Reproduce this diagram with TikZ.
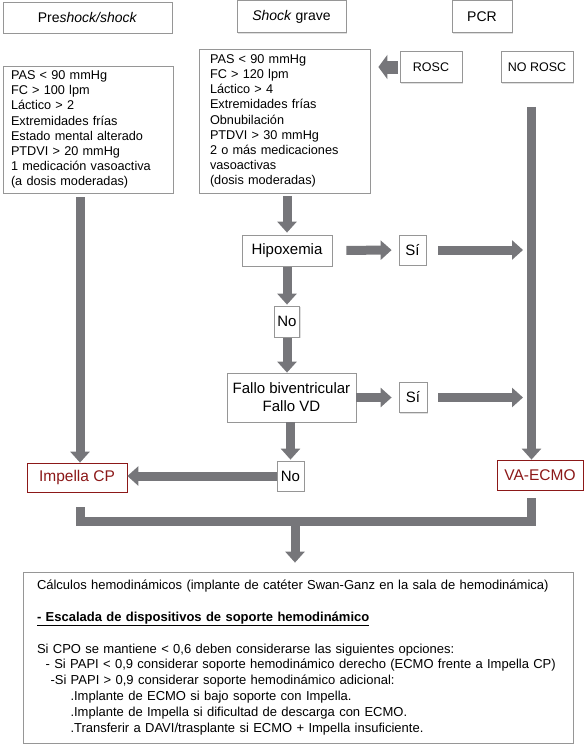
\documentclass[tikz,border=0pt]{standalone}
\usepackage{fontspec}
\setmainfont{Liberation Sans}
\usetikzlibrary{arrows.meta,shadows}
\definecolor{arrowgray}{RGB}{118,118,122}
\definecolor{boxgray}{RGB}{150,150,150}
\definecolor{darkred}{RGB}{140,24,24}
\newcommand{\titlefont}{\fontsize{14}{17}\selectfont}
\newcommand{\critfont}{\fontsize{12.7}{15.2}\selectfont}
\newcommand{\stepfont}{\fontsize{15}{18}\selectfont}
\tikzset{
  every node/.style={text=black, inner sep=0pt},
  box/.style={draw=boxgray, line width=0.8pt, fill=white,
    drop shadow={shadow xshift=1pt, shadow yshift=-1pt, opacity=0.25}},
  stepbox/.style={box, font=\stepfont},
  redbox/.style={box, draw=darkred, text=darkred, font=\fontsize{15.5}{18}\selectfont},
  bigarrow/.style={draw=arrowgray, line width=9pt, -{Triangle[length=11pt, width=19pt]}},
  bar/.style={draw=arrowgray, line width=9pt, line join=miter}
}

\begin{document}
\begin{tikzpicture}[x=1pt, y=-1pt]
  \useasboundingbox (0,0) rectangle (584,745);
  % Nodes
  \node (pre) [box, minimum width=169pt, minimum height=31pt, font=\titlefont] at (87.5,17.5) {Pre\textit{shock/shock}};
  \node (grave) [box, minimum width=109pt, minimum height=32pt, font=\titlefont] at (291.5,16.5) {\textit{Shock} grave};
  \node (pcr) [box, minimum width=60pt, minimum height=32pt, font=\titlefont] at (482,16.5) {PCR};

  \node (crit1) [box, minimum width=170pt, minimum height=127pt, text width=154pt, align=left, font=\critfont] at (88,129.5) {
    PAS < 90 mmHg\\
    FC > 100 lpm\\
    Láctico > 2\\
    Extremidades frías\\
    Estado mental alterado\\
    PTDVI > 20 mmHg\\
    1 medicación vasoactiva\\
    (a dosis moderadas)
  };
  \node (crit2) [box, minimum width=171pt, minimum height=144pt, text width=149pt, align=left, font=\critfont] at (284.5,121) {
    PAS < 90 mmHg\\
    FC > 120 lpm\\
    Láctico > 4\\
    Extremidades frías\\
    Obnubilación\\
    PTDVI > 30 mmHg\\
    2 o más medicaciones\\
    vasoactivas\\
    (dosis moderadas)
  };
  \node (rosc) [box, minimum width=62pt, minimum height=31pt, font=\fontsize{12.5}{15}\selectfont] at (431,67) {ROSC};
  \node (norosc) [box, minimum width=72pt, minimum height=31pt, font=\fontsize{12.5}{15}\selectfont] at (537,67) {NO ROSC};

  \node (hyp) [stepbox, minimum width=90pt, minimum height=31pt] at (287,250.5) {Hipoxemia};
  \node (si1) [stepbox, minimum width=27pt, minimum height=30pt] at (412.5,250) {Sí};
  \node (no1) [stepbox, minimum width=25pt, minimum height=31pt] at (287,321.5) {No};
  \node (fallo) [stepbox, minimum width=129pt, minimum height=49pt, align=center] at (291.5,397.5) {Fallo biventricular\\Fallo VD};
  \node (si2) [stepbox, minimum width=28pt, minimum height=30pt] at (413,397.5) {Sí};
  \node (no2) [stepbox, minimum width=27pt, minimum height=30pt] at (290.5,476) {No};
  \node (impella) [redbox, minimum width=100pt, minimum height=29pt] at (77,477.5) {Impella CP};
  \node (vaecmo) [redbox, minimum width=86pt, minimum height=30pt] at (540,475) {VA-ECMO};

  \node (calc) [box, minimum width=550pt, minimum height=171pt, text width=522pt, align=left, font=\fontsize{13}{15.8}\selectfont] at (298,657.5) {
    Cálculos hemodinámicos (implante de catéter Swan-Ganz en la sala de hemodinámica)\\[15.8pt]
    \underline{\textbf{- Escalada de dispositivos de soporte hemodinámico}}\\[15.8pt]
    Si CPO se mantiene < 0,6 deben considerarse las siguientes opciones:\\
    \hspace*{8.6pt}- Si PAPI < 0,9 considerar soporte hemodinámico derecho (ECMO frente a Impella CP)\\
    \hspace*{13.5pt}-Si PAPI > 0,9 considerar soporte hemodinámico adicional:\\
    \hspace*{33.5pt}.Implante de ECMO si bajo soporte con Impella.\\
    \hspace*{33.5pt}.Implante de Impella si dificultad de descarga con ECMO.\\
    \hspace*{33.5pt}.Transferir a DAVI/trasplante si ECMO + Impella insuficiente.
  };

  % Bars
  \coordinate (lbar) at (80,0);
  \coordinate (rbar) at (531.5,0);
  \coordinate (join) at (295,521.5);
  \coordinate (impout) at ([yshift=-15pt]impella.south);
  \coordinate (ecmoout) at ([yshift=-8pt]vaecmo.south);

  % Connectors
  \draw[bigarrow, line width=13pt, -{Triangle[length=9pt, width=24pt]}, shorten <=2pt, shorten >=8pt] (rosc.west) -- (rosc.west -| crit2.east);
  \draw[bigarrow, shorten <=4pt] (crit1.south -| lbar) -- (impella.north -| lbar);
  \draw[bigarrow, shorten <=24pt] (norosc.south -| rbar) -- (vaecmo.north -| rbar);
  \draw[bigarrow, shorten <=3pt, shorten >=2pt] (crit2.south -| hyp) -- (hyp.north);
  \draw[bigarrow, shorten <=14pt, shorten >=7pt] (hyp.east) -- (si1.west);
  \draw[bigarrow, shorten <=12pt, shorten >=8.5pt] (si1.east) -- (si1.east -| rbar);
  \draw[bigarrow, shorten <=1pt, shorten >=1pt] (hyp.south) -- (no1.north);
  \draw[bigarrow, shorten <=1pt] (no1.south) -- (no1.south |- fallo.north);
  \draw[bigarrow, shorten >=7pt] (fallo.east) -- (si2.west);
  \draw[bigarrow, shorten <=11pt, shorten >=8.5pt] (si2.east) -- (si2.east -| rbar);
  \draw[bigarrow, shorten >=1pt] (fallo.south -| no2) -- (no2.north);
  \draw[bigarrow] (no2.west) -- (no2.west -| impella.east);
  \draw[bar] (impout -| lbar) |- (join) -| (ecmoout -| rbar);
  \draw[bigarrow, shorten >=9pt] (join) -- (join |- calc.north);
\end{tikzpicture}
\end{document}
